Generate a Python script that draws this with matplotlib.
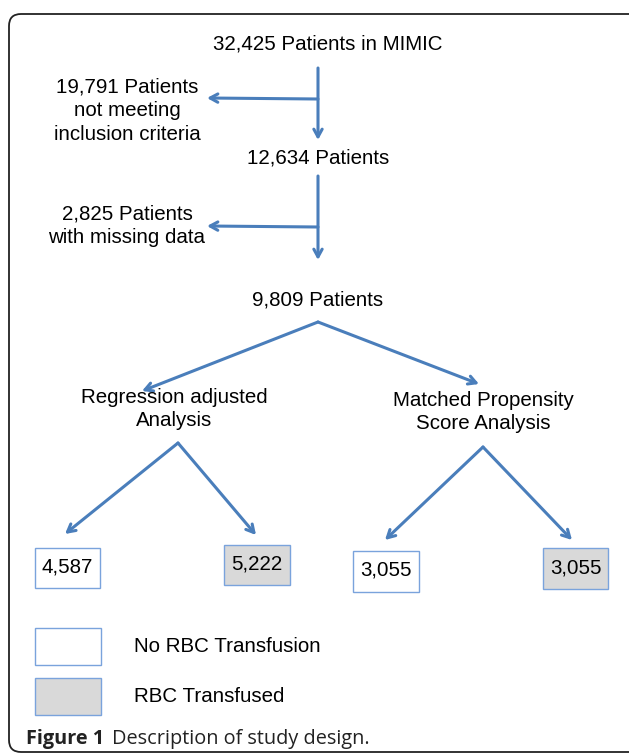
import matplotlib.pyplot as plt
from matplotlib.patches import FancyBboxPatch, Rectangle

# counts in the flow
total_patients = 32425
excluded_criteria = 19791
after_criteria = 12634
missing_data = 2825
final_patients = 9809
regression_groups = [4587, 5222]   # no RBC, RBC transfused
matched_groups = [3055, 3055]      # no RBC, RBC transfused
legend_labels = ['No RBC Transfusion', 'RBC Transfused']

ARROW = '#4a7ebb'
EDGE = '#7aa3dc'
GRAY = '#d9d9d9'
FONT = 'Liberation Sans'
FS = 14.8

fig = plt.figure(figsize=(6.29, 7.56), dpi=100)
ax = fig.add_axes([0, 0, 1, 1])
ax.set_xlim(0, 629)
ax.set_ylim(756, 0)
ax.axis('off')

# outer frame
frame = FancyBboxPatch((9, 14), 640, 738, boxstyle='round,pad=0,rounding_size=12',
                       fc='white', ec='#222222', lw=1.3)
ax.add_patch(frame)


def txt(x, y, s, **kw):
    ax.text(x, y, s, ha='center', va='center', fontsize=FS, family=FONT,
            color='black', linespacing=1.33, **kw)


def arrow(x0, y0, x1, y1):
    ax.annotate('', xy=(x1, y1), xytext=(x0, y0),
                arrowprops=dict(arrowstyle='->,head_length=0.55,head_width=0.3',
                                color=ARROW, lw=2.2, shrinkA=0, shrinkB=0))


# top part of the flow
txt(328, 44, f'{total_patients:,} Patients in MIMIC')
arrow(318, 68, 318, 140)
arrow(318, 99, 207, 98)
txt(127, 111, f'{excluded_criteria:,} Patients\nnot meeting\ninclusion criteria')

txt(318, 158, f'{after_criteria:,} Patients')
arrow(318, 176, 318, 260)
arrow(318, 227, 207, 226)
txt(127, 226, f'{missing_data:,} Patients\nwith missing data')

txt(318, 300, f'{final_patients:,} Patients')
arrow(318, 322, 142, 391)
arrow(318, 322, 479, 384)

txt(174, 409, 'Regression adjusted\nAnalysis')
txt(483, 412, 'Matched Propensity\nScore Analysis')

# lower branches
arrow(178, 443, 65, 534)
arrow(178, 443, 256, 535)
arrow(483, 447, 385, 540)
arrow(483, 447, 572, 540)

boxes = [(35, 548, 65, 40, 'white', regression_groups[0]),
         (224, 545, 66, 40, GRAY, regression_groups[1]),
         (353, 551, 66, 41, 'white', matched_groups[0]),
         (543, 548, 65, 41, GRAY, matched_groups[1])]
for x, y, w, h, fc, n in boxes:
    ax.add_patch(Rectangle((x, y), w, h, fc=fc, ec=EDGE, lw=1.0))
    ax.text(x + w / 2, y + h / 2 - 1, f'{n:,}', ha='center', va='center',
            fontsize=FS, family=FONT)

# legend
for i, (fc, lab) in enumerate(zip(['white', GRAY], legend_labels)):
    y = 628 + i * 50
    ax.add_patch(Rectangle((35, y), 66, 37, fc=fc, ec=EDGE, lw=1.0))
    ax.text(134, y + 18, lab, ha='left', va='center', fontsize=FS, family=FONT)

# caption
ax.text(26, 739, 'Figure 1', ha='left', va='center', fontsize=14.3,
        family='Open Sans', fontweight='bold', color='#222222')
ax.text(112, 739, 'Description of study design.', ha='left', va='center',
        fontsize=14.3, family='Open Sans', color='#222222')

plt.savefig('out.png', dpi=100)
